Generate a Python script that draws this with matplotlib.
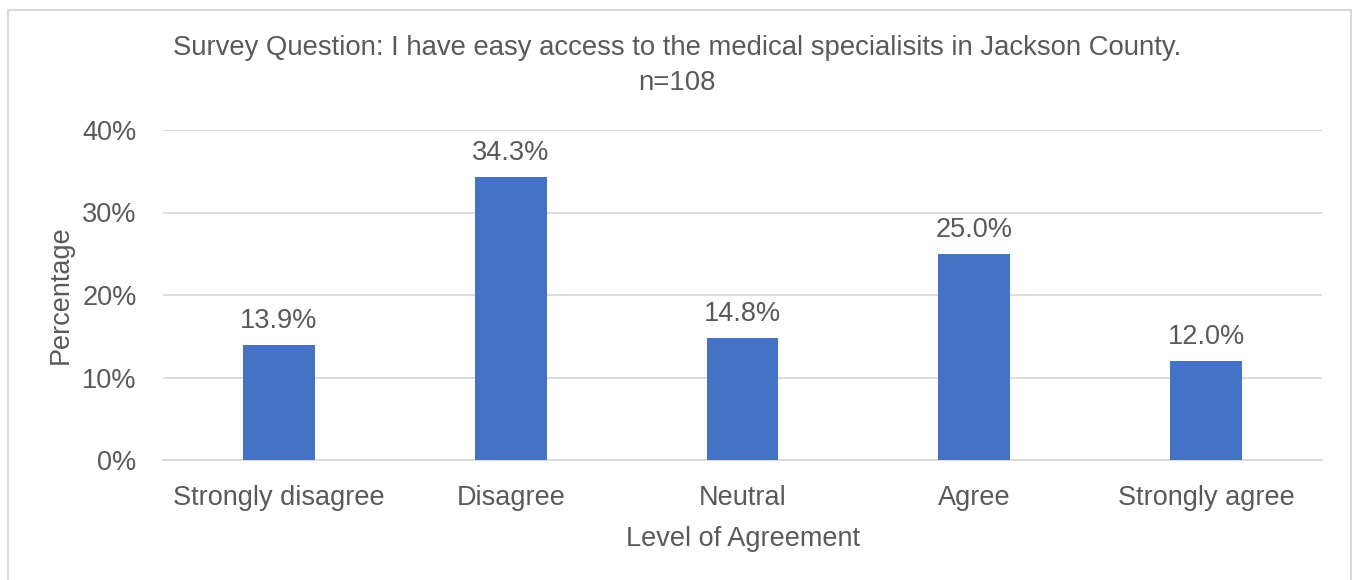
import matplotlib.pyplot as plt
import matplotlib.patches as patches
import numpy as np

categories = ["Strongly disagree", "Disagree", "Neutral", "Agree", "Strongly agree"]
percent = [13.9, 34.3, 14.8, 25.0, 12.0]
yticks = [0, 10, 20, 30, 40]

plt.rcParams['font.family'] = ['Liberation Sans', 'DejaVu Sans']
txt = "#595959"
grid = "#d9d9d9"

fig = plt.figure(figsize=(13.54, 5.8), dpi=100)
ax = fig.add_axes([163/1354, 120/580, 1159/1354, 330/580])

x = np.arange(len(categories))
bars = ax.bar(x, percent, width=0.31, color="#4472c4", zorder=3)
for b, v in zip(bars, percent):
    ax.annotate(f"{v:.1f}%", (b.get_x() + b.get_width()/2, v), xytext=(0, 8),
                textcoords="offset points", ha="center", va="bottom",
                fontsize=19.5, color=txt)

ax.set_xlim(-0.5, len(categories) - 0.5)
ax.set_ylim(0, 40)
ax.set_yticks(yticks)
ax.set_yticklabels([f"{t}%" for t in yticks])
ax.set_xticks(x)
ax.set_xticklabels(categories)
ax.tick_params(axis="both", length=0, labelsize=19.5, colors=txt)
ax.tick_params(axis="y", pad=19)
ax.tick_params(axis="x", pad=18)
ax.grid(axis="y", color=grid, linewidth=1.3, zorder=0)
for s in ["top", "right", "left"]:
    ax.spines[s].set_visible(False)
ax.spines["bottom"].set_color(grid)
ax.spines["bottom"].set_linewidth(1.3)

ax.set_xlabel("Level of Agreement", fontsize=19.5, color=txt, labelpad=10.5)
ax.set_ylabel("Percentage", fontsize=19.5, color=txt, labelpad=6)

fig.text(0.5, 1 - 48/580, "Survey Question: I have easy access to the medical specialisits in Jackson County.",
         ha="center", va="center", fontsize=19.8, color=txt)
fig.text(0.5, 1 - 83/580, "n=108", ha="center", va="center", fontsize=19.8, color=txt)

fig.patches.append(patches.Rectangle((8/1354, -0.05), (1351-8)/1354, 1.05 - 10/580,
                                     transform=fig.transFigure, fill=False,
                                     edgecolor=grid, linewidth=1.5))

fig.savefig("out.png", dpi=100, facecolor="white")
